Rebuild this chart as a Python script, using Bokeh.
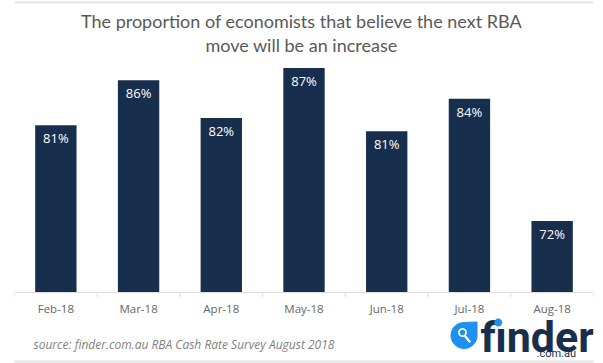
import math
from bokeh.plotting import figure
from bokeh.models import ColumnDataSource, Label, PolyAnnotation
from bokeh.core.properties import value
from bokeh.embed import file_html
from bokeh.resources import INLINE

months = ["Feb-18", "Mar-18", "Apr-18", "May-18", "Jun-18", "Jul-18", "Aug-18"]
heights = [81.4, 85.8, 82.1, 87.0, 80.8, 84.0, 72.0]
labels = ["81%", "86%", "82%", "87%", "81%", "84%", "72%"]
title_lines = ["The proportion of economists that believe the next RBA", "move will be an increase"]
source_note = "source: finder.com.au RBA Cash Rate Survey August 2018"

W, H = 603, 363
FL, FR = 14, 593                   # plot frame edges in picture pixels
AXIS_Y = 292
BASE, PX = 65, 10.2                # value at the baseline, pixels per percentage point
AXIS = "#dddddd"
NAVY = "#172F4D"
BLUE = "#1E90F0"
EDGE = "#e3e3e3"

p = figure(width=W, height=H, x_range=months,
           y_range=(BASE - (H - AXIS_Y) / PX, BASE + AXIS_Y / PX),
           output_backend="svg", toolbar_location=None, tools="",
           min_border_left=FL, min_border_right=W - FR, min_border_top=0, min_border_bottom=0,
           outline_line_color=None, background_fill_color="white", border_fill_color="white")
p.yaxis.visible = False
p.grid.visible = False
p.x_range.range_padding = 0
ax = p.xaxis[0]
ax.fixed_location = BASE - 5 / PX
ax.axis_line_color = None
ax.major_tick_line_color = None
ax.minor_tick_line_color = None
ax.major_tick_in = 0
ax.major_tick_out = 0
ax.major_label_text_font = "Open Sans"
ax.major_label_text_font_size = "11.5px"
ax.major_label_text_color = "#666666"
ax.major_label_standoff = 3

src = ColumnDataSource(dict(m=months, h=heights, t=labels))
p.vbar(x="m", top="h", bottom=BASE, width=0.5, source=src, fill_color=NAVY, line_color=None)
p.text(x="m", y="h", text="t", source=src, text_color="white", text_align="center", text_baseline="middle",
       y_offset=13, text_font=value("Open Sans"), text_font_size="13px")

# axis line and ticks between the categories
edges = list(range(len(months) + 1))
p.segment(x0=[edges[0]], x1=[edges[-1]], y0=[BASE], y1=[BASE], line_color=AXIS, line_width=1)
p.segment(x0=edges, x1=edges, y0=[BASE] * len(edges), y1=[BASE - 4.5 / PX] * len(edges), line_color=AXIS, line_width=1)

def lab(x, y, text, **kw):
    # x, y: picture pixels; screen units here count from the frame's bottom-left corner
    p.add_layout(Label(x=x - FL, y=H - y, x_units="screen", y_units="screen",
                       text_baseline="alphabetic", text=text, **kw))

def poly(pts, **kw):
    p.add_layout(PolyAnnotation(xs=[a - FL for a, _ in pts], ys=[H - b for _, b in pts],
                                xs_units="screen", ys_units="screen", **kw))

def circle(cx, cy, r, n=40):
    return [(cx + r * math.cos(2 * math.pi * i / n), cy + r * math.sin(2 * math.pi * i / n)) for i in range(n)]

def rect(x0, y0, x1, y1):
    poly([(x0, y0), (x1, y0), (x1, y1), (x0, y1)], fill_color=EDGE, fill_alpha=1, line_color=None)

# picture frame
rect(0, 1, 603, 3)
rect(0, 360, 603, 362)
rect(0, 1, 2, 362)
rect(601, 1, 603, 362)

lab(301, 20, title_lines[0], text_font="Lato", text_font_size="18px", text_color="#595959", text_align="center")
lab(301, 44, title_lines[1], text_font="Lato", text_font_size="18px", text_color="#595959", text_align="center")
lab(33, 344, source_note, text_font="Open Sans", text_font_style="italic", text_font_size="12px", text_color="#7f7f7f")

# finder logo
lab(480, 336, "finder", text_font="Roboto", text_font_style="bold", text_font_size="43px", text_color=NAVY)
lab(536, 353, ".com.au", text_font="Roboto", text_font_size="11px", text_color=NAVY)
drop = [(463.5 + 13 * math.cos(math.radians(a)), 335 + 13 * math.sin(math.radians(a))) for a in range(0, 271, 10)]
poly(drop + [(476.5, 321.5)], fill_color=BLUE, fill_alpha=1, line_color=BLUE, line_alpha=1)
poly(circle(462, 332, 3.6), fill_color=None, line_color="white", line_width=1.6, line_alpha=1)
poly([(464.6, 334.6), (470, 341), (468.8, 342), (463.6, 335.6)], fill_color="white", fill_alpha=1, line_color="white", line_alpha=1)
poly(circle(497.7, 322, 3.6), fill_color=BLUE, fill_alpha=1, line_color=BLUE, line_alpha=1)

open("out.html", "w").write(file_html(p, INLINE))
